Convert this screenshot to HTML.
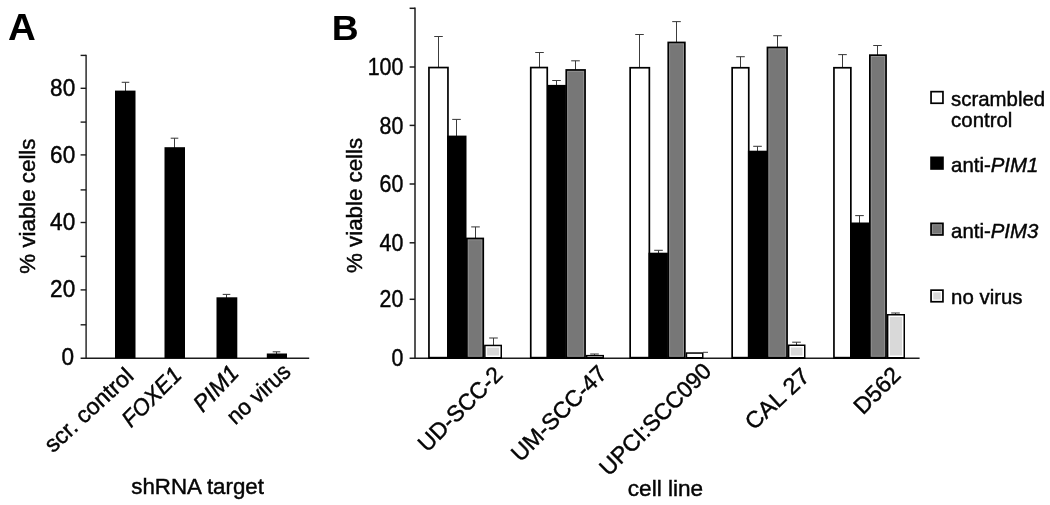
<!DOCTYPE html>
<html><head><meta charset="utf-8"><title>Figure</title>
<style>
html,body{margin:0;padding:0;background:#fff;}
body{width:1050px;height:505px;overflow:hidden;}
svg{display:block;font-family:"Liberation Sans",Arial,Helvetica,sans-serif;fill:#050505;will-change:transform;filter:grayscale(1);}
svg text{stroke:#050505;stroke-width:0.45px;}
.t24{font-size:24px;}
.t22{font-size:22px;}
.t223{font-size:22.3px;}
.t23{font-size:23px;}
.t225{font-size:22.5px;}
.t20{font-size:20.4px;}
svg text.pl{font-size:36px;font-weight:bold;fill:#000;stroke:none;}
.it{font-style:italic;}
</style></head><body>
<svg width="1050" height="505" viewBox="0 0 1050 505">
<rect x="0" y="0" width="1050" height="505" fill="#fff"/>

<text class="pl" transform="translate(8,40.3) scale(1.07,1)">A</text>
<g stroke="#1c1c1c" stroke-width="1.4" fill="none">
<line x1="86.1" y1="54.7" x2="86.1" y2="359.0"/>
<line x1="80.6" y1="358.3" x2="309.2" y2="358.3"/>
<line x1="80.6" y1="324.8" x2="86.1" y2="324.8"/>
<line x1="80.6" y1="289.9" x2="86.1" y2="289.9"/>
<line x1="80.6" y1="256.4" x2="86.1" y2="256.4"/>
<line x1="80.6" y1="222.5" x2="86.1" y2="222.5"/>
<line x1="80.6" y1="189.9" x2="86.1" y2="189.9"/>
<line x1="80.6" y1="154.9" x2="86.1" y2="154.9"/>
<line x1="80.6" y1="122.1" x2="86.1" y2="122.1"/>
<line x1="80.6" y1="88.3" x2="86.1" y2="88.3"/>
<line x1="80.6" y1="55.4" x2="86.1" y2="55.4"/>
</g>
<text class="t24" text-anchor="end" transform="translate(74.0,364.7) scale(0.94,1)">0</text>
<text class="t24" text-anchor="end" transform="translate(75.2,297.4) scale(0.94,1)">20</text>
<text class="t24" text-anchor="end" transform="translate(75.2,230.1) scale(0.94,1)">40</text>
<text class="t24" text-anchor="end" transform="translate(75.2,162.8) scale(0.94,1)">60</text>
<text class="t24" text-anchor="end" transform="translate(75.2,95.5) scale(0.94,1)">80</text>
<text class="t223" text-anchor="middle" transform="translate(35.2,206.1) rotate(-90)">% viable cells</text>
<g stroke="#3c3c3c" stroke-width="1.05"><line x1="125.5" y1="82.3" x2="125.5" y2="91.6"/><line x1="121.7" y1="82.3" x2="129.3" y2="82.3"/></g>
<rect x="115" y="90.6" width="20.5" height="267.7" fill="#000"/>
<g stroke="#3c3c3c" stroke-width="1.05"><line x1="174.5" y1="138.2" x2="174.5" y2="148.2"/><line x1="170.7" y1="138.2" x2="178.3" y2="138.2"/></g>
<rect x="164.5" y="147.2" width="20.5" height="211.1" fill="#000"/>
<g stroke="#3c3c3c" stroke-width="1.05"><line x1="226.5" y1="294.4" x2="226.5" y2="298.3"/><line x1="222.7" y1="294.4" x2="230.3" y2="294.4"/></g>
<rect x="216.5" y="297.3" width="20.8" height="61.0" fill="#000"/>
<g stroke="#3c3c3c" stroke-width="1.05"><line x1="276.5" y1="351.8" x2="276.5" y2="354.5"/><line x1="272.7" y1="351.8" x2="280.3" y2="351.8"/></g>
<rect x="266.8" y="353.5" width="20.2" height="4.8" fill="#000"/>
<text class="t23" text-anchor="end" textLength="111.8" lengthAdjust="spacingAndGlyphs" transform="translate(135.1,377.7) rotate(-42.7)">scr. control</text>
<text class="t23 it" text-anchor="end" textLength="73.7" lengthAdjust="spacingAndGlyphs" transform="translate(183.0,376.3) rotate(-45.1)">FOXE1</text>
<text class="t23 it" text-anchor="end" textLength="54.2" lengthAdjust="spacingAndGlyphs" transform="translate(240.2,374.1) rotate(-46.4)">PIM1</text>
<text class="t23" text-anchor="end" textLength="76.9" lengthAdjust="spacingAndGlyphs" transform="translate(292.2,373.7) rotate(-42.3)">no virus</text>
<text class="t225" x="131.3" y="494" textLength="132.6" lengthAdjust="spacingAndGlyphs">shRNA target</text>
<text class="pl" transform="translate(331.7,39.7) scale(1.035,1)">B</text>
<g stroke="#1c1c1c" stroke-width="1.5" fill="none">
<line x1="415.0" y1="7.6" x2="415.0" y2="359.0"/>
<line x1="409.6" y1="358.3" x2="919.6" y2="358.3"/>
<line x1="409.6" y1="299.3" x2="415.0" y2="299.3"/>
<line x1="409.6" y1="242.8" x2="415.0" y2="242.8"/>
<line x1="409.6" y1="184.0" x2="415.0" y2="184.0"/>
<line x1="409.6" y1="125.4" x2="415.0" y2="125.4"/>
<line x1="409.6" y1="67.0" x2="415.0" y2="67.0"/>
<line x1="409.6" y1="8.3" x2="415.0" y2="8.3"/>
</g>
<text class="t24" text-anchor="end" transform="translate(403.3,366.4) scale(0.89,1)">0</text>
<text class="t24" text-anchor="end" transform="translate(403.3,307.4) scale(0.89,1)">20</text>
<text class="t24" text-anchor="end" transform="translate(403.3,250.9) scale(0.89,1)">40</text>
<text class="t24" text-anchor="end" transform="translate(403.3,192.1) scale(0.89,1)">60</text>
<text class="t24" text-anchor="end" transform="translate(403.3,133.5) scale(0.89,1)">80</text>
<text class="t24" text-anchor="end" transform="translate(403.3,75.1) scale(0.89,1)">100</text>
<text class="t223" text-anchor="middle" transform="translate(362.2,205.4) rotate(-90)">% viable cells</text>
<g stroke="#3c3c3c" stroke-width="1.05"><line x1="438.5" y1="36.5" x2="438.5" y2="67.7"/><line x1="434.2" y1="36.5" x2="442.8" y2="36.5"/></g>
<g stroke="#3c3c3c" stroke-width="1.05"><line x1="456.5" y1="119.4" x2="456.5" y2="136.6"/><line x1="452.2" y1="119.4" x2="460.8" y2="119.4"/></g>
<g stroke="#3c3c3c" stroke-width="1.05"><line x1="475.5" y1="226.9" x2="475.5" y2="238.6"/><line x1="471.2" y1="226.9" x2="479.8" y2="226.9"/></g>
<g stroke="#3c3c3c" stroke-width="1.05"><line x1="493.5" y1="338.0" x2="493.5" y2="345.7"/><line x1="489.2" y1="338.0" x2="497.8" y2="338.0"/></g>
<rect x="428.1" y="66.7" width="20.7" height="292.3" fill="#000"/>
<rect x="429.8" y="68.4" width="17.3" height="288.4" fill="#fff"/>
<rect x="466.0" y="237.6" width="18.1" height="121.4" fill="#000"/>
<rect x="467.7" y="239.3" width="14.7" height="117.5" fill="#939393"/>
<rect x="468.7" y="240.3" width="12.7" height="115.5" fill="#777777"/>
<rect x="447.1" y="135.6" width="19.4" height="223.4" fill="#000"/>
<rect x="484.1" y="344.7" width="17.9" height="14.3" fill="#000"/>
<rect x="485.6" y="346.2" width="14.9" height="10.8" fill="#fff"/>
<rect x="487.1" y="347.7" width="11.9" height="7.8" fill="#d9d9d9"/>
<text class="t23" text-anchor="end" textLength="108.6" lengthAdjust="spacingAndGlyphs" transform="translate(504.0,376.1) rotate(-45.0)">UD-SCC-2</text>
<g stroke="#3c3c3c" stroke-width="1.05"><line x1="539.5" y1="52.5" x2="539.5" y2="67.7"/><line x1="535.2" y1="52.5" x2="543.8" y2="52.5"/></g>
<g stroke="#3c3c3c" stroke-width="1.05"><line x1="556.5" y1="80.5" x2="556.5" y2="85.9"/><line x1="552.2" y1="80.5" x2="560.8" y2="80.5"/></g>
<g stroke="#3c3c3c" stroke-width="1.05"><line x1="575.5" y1="60.8" x2="575.5" y2="70.1"/><line x1="571.2" y1="60.8" x2="579.8" y2="60.8"/></g>
<g stroke="#3c3c3c" stroke-width="1.05"><line x1="594.5" y1="354.0" x2="594.5" y2="355.9"/><line x1="590.2" y1="354.0" x2="598.8" y2="354.0"/></g>
<rect x="529.9" y="66.7" width="18.2" height="292.3" fill="#000"/>
<rect x="531.6" y="68.4" width="14.8" height="288.4" fill="#fff"/>
<rect x="565.4" y="69.1" width="20.5" height="289.9" fill="#000"/>
<rect x="567.1" y="70.8" width="17.1" height="286.0" fill="#939393"/>
<rect x="568.1" y="71.8" width="15.1" height="284.0" fill="#777777"/>
<rect x="547.8" y="84.9" width="18.1" height="274.1" fill="#000"/>
<rect x="585.9" y="354.9" width="18.1" height="4.1" fill="#000"/>
<rect x="587.4" y="356.4" width="15.1" height="0.6" fill="#fff"/>
<text class="t23" text-anchor="end" textLength="124.2" lengthAdjust="spacingAndGlyphs" transform="translate(608.2,375.0) rotate(-45.0)">UM-SCC-47</text>
<g stroke="#3c3c3c" stroke-width="1.05"><line x1="639.5" y1="34.5" x2="639.5" y2="67.9"/><line x1="635.2" y1="34.5" x2="643.8" y2="34.5"/></g>
<g stroke="#3c3c3c" stroke-width="1.05"><line x1="658.5" y1="250.3" x2="658.5" y2="253.7"/><line x1="654.2" y1="250.3" x2="662.8" y2="250.3"/></g>
<g stroke="#3c3c3c" stroke-width="1.05"><line x1="676.5" y1="21.6" x2="676.5" y2="42.6"/><line x1="672.2" y1="21.6" x2="680.8" y2="21.6"/></g>
<rect x="629.3" y="66.9" width="20.9" height="292.1" fill="#000"/>
<rect x="631.0" y="68.6" width="17.5" height="288.2" fill="#fff"/>
<rect x="667.4" y="41.6" width="18.3" height="317.4" fill="#000"/>
<rect x="669.1" y="43.3" width="14.9" height="313.5" fill="#939393"/>
<rect x="670.1" y="44.3" width="12.9" height="311.5" fill="#777777"/>
<rect x="648.5" y="252.7" width="19.4" height="106.3" fill="#000"/>
<rect x="685.7" y="352.3" width="17.8" height="6.7" fill="#000"/>
<rect x="687.2" y="353.8" width="14.8" height="3.2" fill="#fff"/>
<text class="t23" text-anchor="end" textLength="147.4" lengthAdjust="spacingAndGlyphs" transform="translate(712.7,372.6) rotate(-45.1)">UPCI:SCC090</text>
<g stroke="#3c3c3c" stroke-width="1.05"><line x1="740.5" y1="56.7" x2="740.5" y2="67.9"/><line x1="736.2" y1="56.7" x2="744.8" y2="56.7"/></g>
<g stroke="#3c3c3c" stroke-width="1.05"><line x1="757.5" y1="146.3" x2="757.5" y2="151.7"/><line x1="753.2" y1="146.3" x2="761.8" y2="146.3"/></g>
<g stroke="#3c3c3c" stroke-width="1.05"><line x1="777.5" y1="35.7" x2="777.5" y2="47.6"/><line x1="773.2" y1="35.7" x2="781.8" y2="35.7"/></g>
<g stroke="#3c3c3c" stroke-width="1.05"><line x1="796.5" y1="342.2" x2="796.5" y2="345.5"/><line x1="792.2" y1="342.2" x2="800.8" y2="342.2"/></g>
<rect x="731.3" y="66.9" width="18.3" height="292.1" fill="#000"/>
<rect x="733.0" y="68.6" width="14.9" height="288.2" fill="#fff"/>
<rect x="766.6" y="46.6" width="21.3" height="312.4" fill="#000"/>
<rect x="768.3" y="48.3" width="17.9" height="308.5" fill="#939393"/>
<rect x="769.3" y="49.3" width="15.9" height="306.5" fill="#777777"/>
<rect x="747.9" y="150.7" width="19.2" height="208.3" fill="#000"/>
<rect x="787.9" y="344.5" width="17.6" height="14.5" fill="#000"/>
<rect x="789.4" y="346.0" width="14.6" height="11.0" fill="#fff"/>
<rect x="790.9" y="347.5" width="11.6" height="8.0" fill="#d9d9d9"/>
<text class="t23" text-anchor="end" textLength="78.1" lengthAdjust="spacingAndGlyphs" transform="translate(811.1,378.0) rotate(-42.8)">CAL 27</text>
<g stroke="#3c3c3c" stroke-width="1.05"><line x1="842.5" y1="54.6" x2="842.5" y2="67.9"/><line x1="838.2" y1="54.6" x2="846.8" y2="54.6"/></g>
<g stroke="#3c3c3c" stroke-width="1.05"><line x1="859.5" y1="215.6" x2="859.5" y2="223.5"/><line x1="855.2" y1="215.6" x2="863.8" y2="215.6"/></g>
<g stroke="#3c3c3c" stroke-width="1.05"><line x1="877.5" y1="45.5" x2="877.5" y2="55.3"/><line x1="873.2" y1="45.5" x2="881.8" y2="45.5"/></g>
<g stroke="#3c3c3c" stroke-width="1.05"><line x1="895.5" y1="313.0" x2="895.5" y2="315.0"/><line x1="891.2" y1="313.0" x2="899.8" y2="313.0"/></g>
<rect x="833.1" y="66.9" width="18.6" height="292.1" fill="#000"/>
<rect x="834.8" y="68.6" width="15.2" height="288.2" fill="#fff"/>
<rect x="869.0" y="54.3" width="17.9" height="304.7" fill="#000"/>
<rect x="870.7" y="56.0" width="14.5" height="300.8" fill="#939393"/>
<rect x="871.7" y="57.0" width="12.5" height="298.8" fill="#777777"/>
<rect x="850.0" y="222.5" width="19.5" height="136.5" fill="#000"/>
<rect x="886.9" y="314.0" width="18.1" height="45.0" fill="#000"/>
<rect x="888.4" y="315.5" width="15.1" height="41.5" fill="#fff"/>
<rect x="889.9" y="317.0" width="12.1" height="38.5" fill="#d9d9d9"/>
<text class="t23" text-anchor="end" textLength="55.1" lengthAdjust="spacingAndGlyphs" transform="translate(902.0,376.4) rotate(-45.1)">D562</text>
<line x1="703" y1="352.3" x2="708" y2="352.3" stroke="#3c3c3c" stroke-width="1"/>
<text class="t225" x="627.8" y="495.5" textLength="75.4" lengthAdjust="spacingAndGlyphs">cell line</text>
<rect x="930.2" y="90.8" width="13.6" height="13.3" fill="#000"/>
<rect x="931.9" y="92.5" width="10.2" height="9.9" fill="#fff"/>
<rect x="930.2" y="156.5" width="13.6" height="13.3" fill="#000"/>
<rect x="930.2" y="222.5" width="13.6" height="13.3" fill="#000"/>
<rect x="931.9" y="224.2" width="10.2" height="9.9" fill="#939393"/>
<rect x="932.9" y="225.2" width="8.2" height="7.9" fill="#777777"/>
<rect x="930.2" y="289.3" width="13.6" height="13.3" fill="#000"/>
<rect x="931.9" y="291.0" width="10.2" height="9.9" fill="#fff"/>
<rect x="933.3" y="292.4" width="7.4" height="7.1" fill="#d9d9d9"/>
<text class="t20" x="951.1" y="106">scrambled</text>
<text class="t20" x="951.1" y="126.8">control</text>
<text class="t20" x="951.1" y="172.2">anti-<tspan class="it">PIM1</tspan></text>
<text class="t20" x="951.1" y="238.3">anti-<tspan class="it">PIM3</tspan></text>
<text class="t20" x="951.1" y="304.1">no virus</text>
</svg></body></html>
